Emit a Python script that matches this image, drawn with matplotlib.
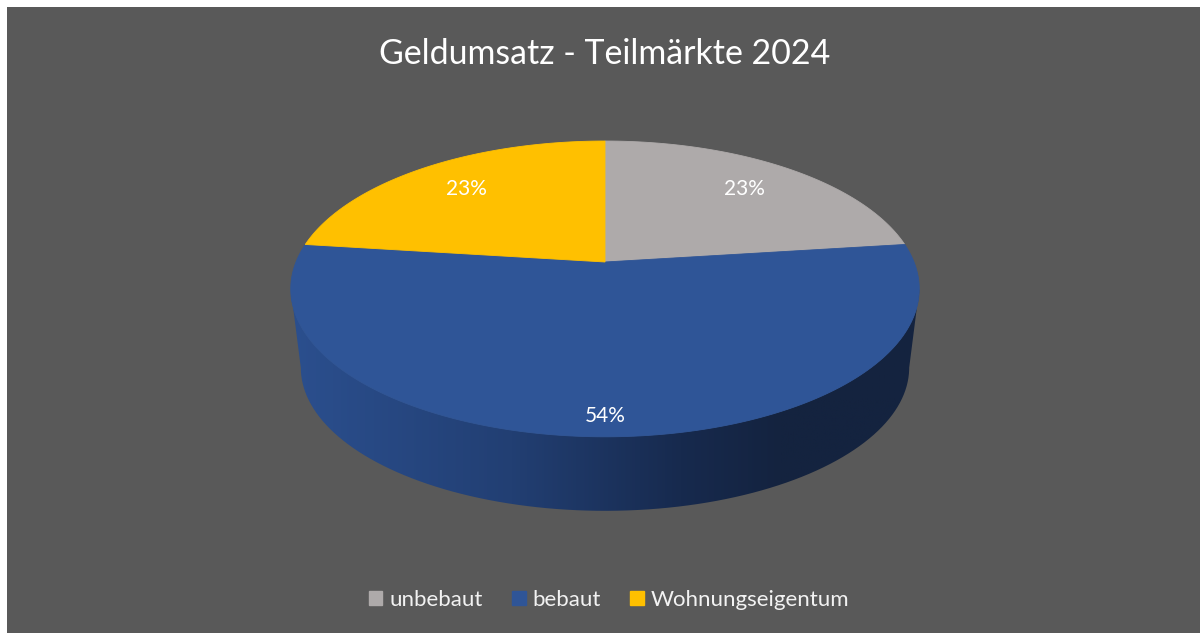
#!/usr/bin/env python3

import matplotlib
matplotlib.use('Agg')
import matplotlib.pyplot as plt
import matplotlib.patches as mpatches
from matplotlib.path import Path
from matplotlib.colors import LinearSegmentedColormap
import numpy as np

title = 'Geldumsatz - Teilmärkte 2024'
categories = ['unbebaut', 'bebaut', 'Wohnungseigentum']
values = [23, 54, 23]
colors = ['#AEAAAA', '#2F5597', '#FFC000']
background = '#595959'

plt.rcParams['font.family'] = ['Lato', 'DejaVu Sans']

# perspective of the tilted pie, in figure pixels
CENTER_X = 605
APEX_Y = 262
TILT = 0.182
WIDTH = 309
HEIGHT = 143
DEPTH = 79.6
SHRINK = 0.968


def project(angle, radius=1.0, shift=0.0, scale=1.0):
    # angle in radians, clockwise from the top of the pie
    u = radius * np.sin(angle)
    v = radius * np.cos(angle)
    d = 1 + TILT * v
    return CENTER_X + scale * WIDTH * u / d, APEX_Y + shift - scale * HEIGHT * v / d


fig = plt.figure(figsize=(12, 6.33), dpi=100, facecolor='white')
ax = fig.add_axes([0, 0, 1, 1])
ax.set_xlim(0, 1200)
ax.set_ylim(633, 0)
ax.axis('off')
ax.add_patch(mpatches.Rectangle((7, 7), 1193, 626, color=background, lw=0, zorder=0))

# side wall, follows the outer edge between the widest points of the two rims
front_top = np.linspace(np.pi / 2 + np.arcsin(TILT), 3 * np.pi / 2 - np.arcsin(TILT), 200)
top_x, top_y = project(front_top)
bottom_x, bottom_y = project(front_top, shift=DEPTH, scale=SHRINK)
wall = np.vstack([np.column_stack([top_x, top_y]), np.column_stack([bottom_x, bottom_y])[::-1]])
wall_cmap = LinearSegmentedColormap.from_list('wall', [
    (0.0, '#2B4F8E'), (0.35, '#223F73'), (0.62, '#172A4E'), (0.78, '#14233F'), (1.0, '#14233F')
])
left, right = wall[:, 0].min(), wall[:, 0].max()
img = ax.imshow(np.linspace(0, 1, 256)[None, :], cmap=wall_cmap, vmin=0, vmax=1, aspect='auto',
                extent=(left, right, wall[:, 1].max(), wall[:, 1].min()), zorder=1)
img.set_clip_path(mpatches.PathPatch(Path(wall), transform=ax.transData))
ax.set_xlim(0, 1200)
ax.set_ylim(633, 0)

# top face
edges = np.cumsum([0] + values) / sum(values) * 2 * np.pi
for start, end, color in zip(edges[:-1], edges[1:], colors):
    a = np.linspace(start, end, 200)
    x, y = project(a)
    apex_x, apex_y = project(0.0, radius=0.0)
    ax.fill(np.r_[apex_x, x], np.r_[apex_y, y], color=color, lw=0.6, zorder=2)

# data labels
label_radius = [0.75, 0.9, 0.75]
for start, end, value, r in zip(edges[:-1], edges[1:], values, label_radius):
    x, y = project((start + end) / 2, radius=r)
    ax.text(x, y, f'{value}%', color='white', fontsize=15, ha='center', va='center', zorder=3)

ax.text(605, 53.5, title, color='white', fontsize=24.4, ha='center', va='center')

patches = [mpatches.Patch(color=c, label=n) for c, n in zip(colors, categories)]
legend = ax.legend(handles=patches, loc='center', bbox_to_anchor=(609, 600),
                   bbox_transform=ax.transData, ncol=3, frameon=False, fontsize=16.05,
                   labelcolor='#F2F2F2', handlelength=0.6, handleheight=0.6,
                   handletextpad=0.3, columnspacing=1.33, borderpad=0)

plt.savefig('out.png', dpi=100, facecolor=fig.get_facecolor())
